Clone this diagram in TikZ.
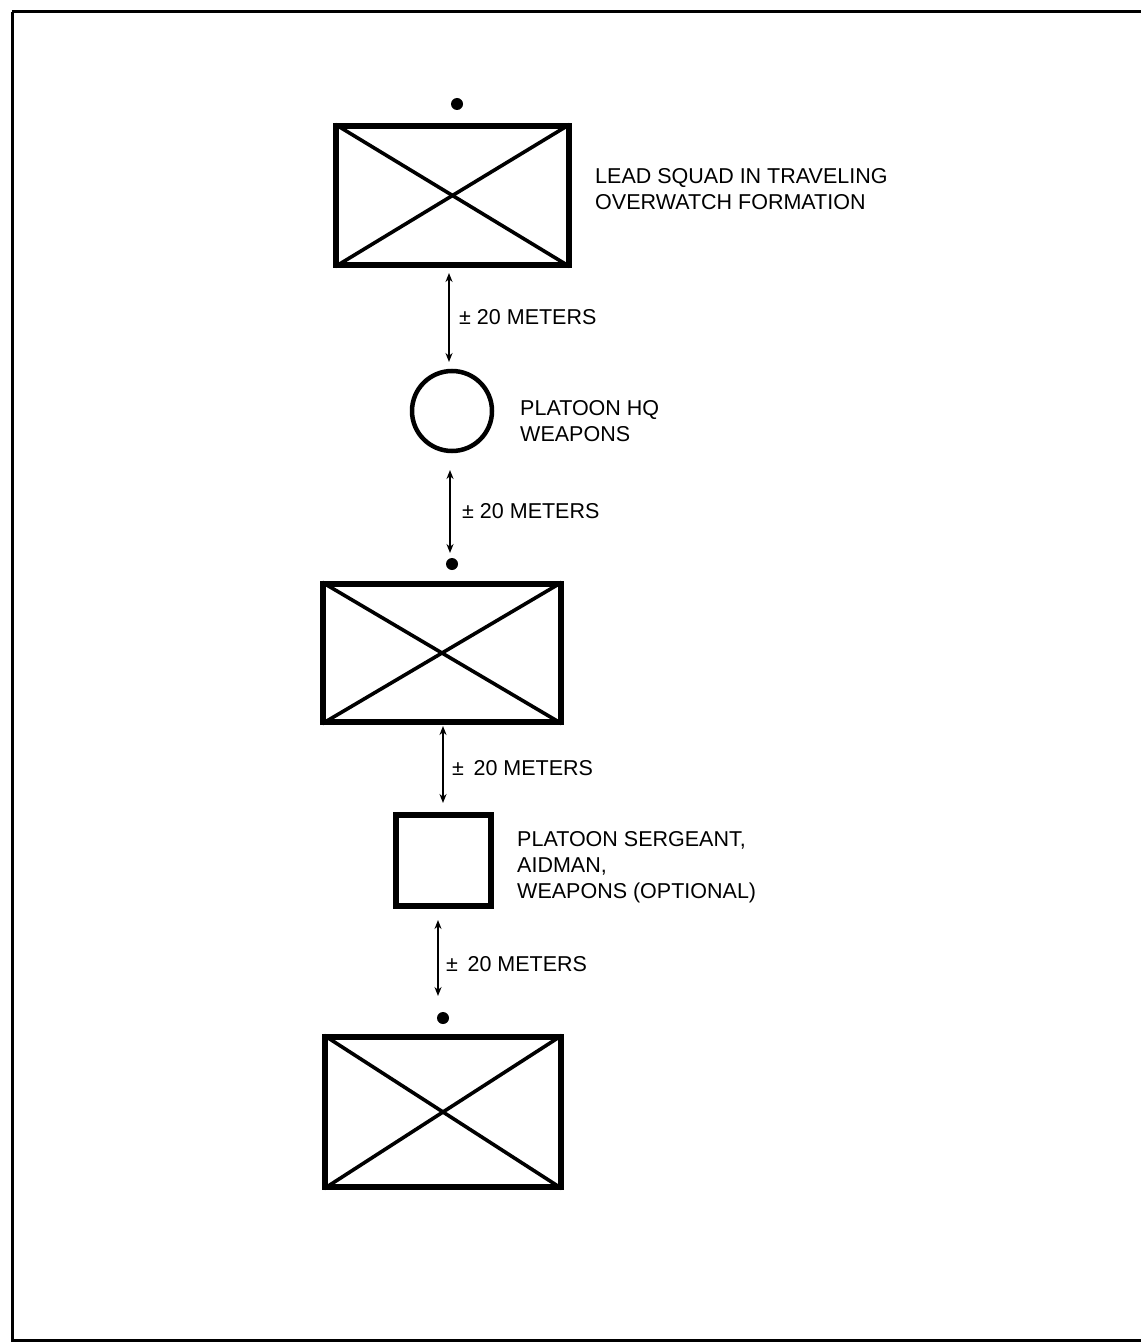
\documentclass[tikz,border=0pt]{standalone}
\usepackage{fontspec}
\setmainfont{Liberation Sans}
\usetikzlibrary{arrows.meta}
\begin{document}
\begin{tikzpicture}[x=1pt,y=-1pt,
  unitbox/.style={draw,line width=6pt,rectangle,inner sep=0pt},
  diag/.style={line width=3.6pt,shorten <=2.5pt,shorten >=2.5pt},
  dist/.style={line width=2.2pt,{Stealth[length=9pt,width=7pt]}-{Stealth[length=9pt,width=7pt]}},
  lbl/.style={anchor=west,align=left,font=\fontsize{21.5}{26}\selectfont,inner sep=0pt},
  dot/.style={circle,fill=black,inner sep=0pt,minimum size=12pt}]
\useasboundingbox (0,0) rectangle (1140,1343);
\draw[line width=3pt] (12,12) -- (1141,12);
\draw[line width=3pt] (12,12) -- (12,1340) -- (1141,1340);
% lead squad
\node[unitbox,minimum width=233pt,minimum height=139pt] (b1) at (452.5,195.5) {};
\draw[diag] (b1.north west) -- (b1.south east);
\draw[diag] (b1.south west) -- (b1.north east);
\node[dot] (d1) at (457,104) {};
\node[lbl] (t1) at (595,189) {LEAD SQUAD IN TRAVELING\\OVERWATCH FORMATION};
% HQ
\node[draw,circle,line width=4.5pt,minimum size=80pt,inner sep=0pt] (hq) at (452,411) {};
\node[lbl] (t2) at (520,421) {PLATOON HQ\\WEAPONS};
% second squad
\node[dot] (d2) at (452,564) {};
\node[unitbox,minimum width=238pt,minimum height=138pt] (b2) at (442,653) {};
\draw[diag] (b2.north west) -- (b2.south east);
\draw[diag] (b2.south west) -- (b2.north east);
% platoon sergeant
\node[unitbox,minimum width=95pt,minimum height=91pt] (ps) at (443.5,860.5) {};
\node[lbl] (t3) at (517,867) {PLATOON SERGEANT,\\AIDMAN,\\WEAPONS (OPTIONAL)};
% third squad
\node[dot] (d3) at (443,1018) {};
\node[unitbox,minimum width=236pt,minimum height=150pt] (b3) at (443,1112) {};
\draw[diag] (b3.north west) -- (b3.south east);
\draw[diag] (b3.south west) -- (b3.north east);
% distances
\coordinate (a1s) at (449,273); \coordinate (a1e) at (449,362);
\coordinate (a2s) at (450,470); \coordinate (a2e) at (450,553);
\coordinate (a3s) at (443,726); \coordinate (a3e) at (443,803);
\coordinate (a4s) at (438,920); \coordinate (a4e) at (438,996);
\draw[dist] (a1s) -- (a1e);
\draw[dist] (a2s) -- (a2e);
\draw[dist] (a3s) -- (a3e);
\draw[dist] (a4s) -- (a4e);
\node[lbl] (m1) at (459,317) {± 20 METERS};
\node[lbl] (m2) at (462,511) {± 20 METERS};
\node[lbl] (m3) at (452,768) {± \,20 METERS};
\node[lbl] (m4) at (446,964) {± \,20 METERS};
\end{tikzpicture}
\end{document}
